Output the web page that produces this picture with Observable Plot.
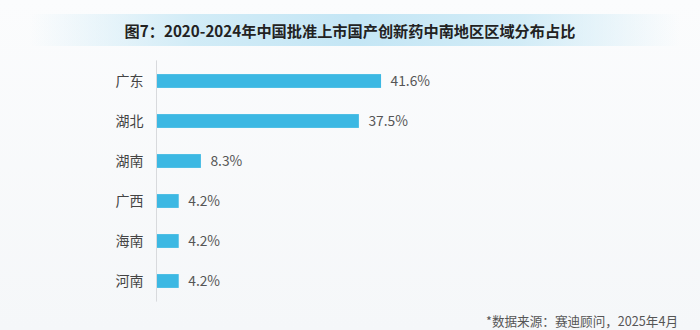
<!DOCTYPE html>
<html>
<head>
<meta charset="utf-8">
<script src="https://cdn.jsdelivr.net/npm/d3@7"></script>
<script src="https://cdn.jsdelivr.net/npm/@observablehq/plot@0.6"></script>
<style>
  html, body { margin: 0; padding: 0; }
  body { width: 700px; height: 330px; overflow: hidden;
    background: linear-gradient(180deg, #fbfcfd 0%, #f5f7f9 100%);
    font-family: "Noto Sans CJK SC", "Noto Sans", sans-serif; }
  #title { position: relative; height: 50px; }
  #title .band { position: absolute; left: 30px; right: 20px; top: 14px; height: 32px;
    background: linear-gradient(90deg, rgba(205,234,246,0) 0%, rgba(205,234,246,0.9) 25%, rgba(196,230,245,1) 50%, rgba(205,234,246,0.9) 75%, rgba(205,234,246,0) 100%); }
  #title .text { position: absolute; left: 0; right: 0; top: 19px; text-align: center;
    font-size: 15.2px; font-weight: bold; color: #222; line-height: 22px; }
  #chart svg { display: block; }
  #caption { height: 25px; text-align: right; padding-right: 22px; font-size: 12.6px; color: #555; line-height: 14px; padding-top: 9px; box-sizing: border-box; }
</style>
</head>
<body>
<div id="title"><div class="band"></div><div class="text">图7：2020-2024年中国批准上市国产创新药中南地区区域分布占比</div></div>
<div id="chart"></div>
<div id="caption">*数据来源：赛迪顾问，2025年4月</div>
<script>
const regions = ["广东", "湖北", "湖南", "广西", "海南", "河南"];
const shares = [41.6, 37.5, 8.3, 4.2, 4.2, 4.2];
const labels = ["41.6%", "37.5%", "8.3%", "4.2%", "4.2%", "4.2%"];

const data = regions.map((r, i) => ({region: r, value: shares[i], label: labels[i]}));

const chart = Plot.plot({
  width: 700,
  height: 255,
  marginTop: 10.4,
  marginBottom: 3.4,
  marginLeft: 156,
  marginRight: 3,
  style: {background: "transparent", fontFamily: "'Noto Sans CJK SC', 'Noto Sans', sans-serif"},
  x: {domain: [0, 100], axis: null},
  y: {domain: regions, padding: 0, label: null},
  marks: [
    Plot.axisY({tickSize: 0, tickPadding: 13, fontSize: 14, color: "#444", label: null}),
    Plot.barX(data, {x: "value", y: "region", fill: "#3cb8e3", insetTop: 13.1, insetBottom: 13.1}),
    Plot.ruleX([0], {stroke: "#d8dadd", strokeWidth: 1}),
    Plot.text(data, {x: "value", y: "region", text: "label", textAnchor: "start", dx: 9, fontSize: 13.8, fill: "#555"})
  ]
});
document.getElementById("chart").appendChild(chart);
</script>
</body>
</html>
